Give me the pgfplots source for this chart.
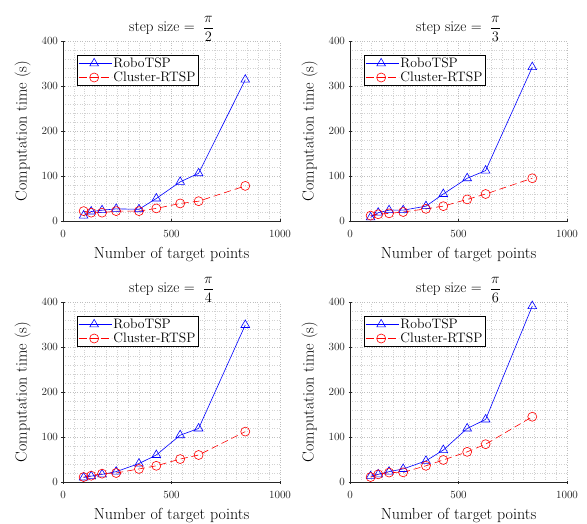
\documentclass[border=0pt]{standalone}
\usepackage{pgfplots}
\pgfplotsset{compat=1.18}
\usepackage{amsmath}

\pgfplotsset{
  myax/.style={
    scale only axis, width=217pt, height=180pt,
    anchor=south west,
    xmin=0, xmax=1000, ymin=0, ymax=400,
    xtick={0,500,1000}, ytick={0,100,200,300,400},
    /pgf/number format/1000 sep={},
    minor x tick num=9, minor y tick num=4,
    minor tick length=0pt, major tick length=3pt,
    tick align=inside,
    axis x line=bottom, axis y line=left,
    axis line style={black!85, -, line width=0.5pt},
    tick style={black!85, line width=0.5pt},
    grid=both,
    major grid style={dotted, black!25, line width=0.5pt},
    minor grid style={dotted, black!18, line width=0.5pt},
    ticklabel style={font=\fontsize{10.5}{12}\selectfont, text=black!85},
    xticklabel style={yshift=-4pt},
    xlabel={Number of target points},
    ylabel={Computation time (s)},
    label style={font=\fontsize{16}{18}\selectfont},
    xlabel style={yshift=-3pt},
    ylabel style={yshift=4pt},
    title style={font=\fontsize{15}{17}\selectfont, at={(0.5,1)}, anchor=south, inner sep=0pt, yshift=-7pt},
    legend cell align=left,
    legend style={at={(0.065,0.922)}, anchor=north west, font=\fontsize{13.7}{15}\selectfont,
      draw=black, line width=0.5pt, inner sep=1pt, row sep=0pt,
      nodes={inner sep=1.5pt}},
    legend image code/.code={\path (-1pt,0pt) -- (32pt,0pt);\draw[mark repeat=2,mark phase=2] plot coordinates {(0pt,0pt)(14.5pt,0pt)(29pt,0pt)};},
  },
  robo/.style={blue, line width=0.6pt, mark=triangle, mark size=5pt, mark options={solid, line width=0.6pt}},
  clus/.style={red, line width=0.6pt, dash pattern=on 7pt off 4pt, mark=o, mark size=4.5pt, mark options={solid, line width=0.6pt}},
}

\begin{document}
\begin{tikzpicture}
\useasboundingbox (0pt,0pt) rectangle (587pt,523pt);

\begin{axis}[myax, at={(63pt,302pt)}, title={step size $=\;\dfrac{\pi}{2}$}]
\addplot[robo] coordinates {(95,12)(130,21)(180,24)(245,27)(350,26)(430,50)(540,87)(625,106)(840,314)};
\addplot[clus] coordinates {(95,22)(130,18.5)(180,18.5)(245,22)(350,22)(430,28)(540,39)(625,44)(840,78)};
\legend{RoboTSP, Cluster-RTSP}
\end{axis}

\begin{axis}[myax, at={(350pt,302pt)}, title={step size $=\;\dfrac{\pi}{3}$}]
\addplot[robo] coordinates {(95,8)(130,18.5)(180,24)(245,24)(350,33)(430,60)(540,95)(625,112)(840,342)};
\addplot[clus] coordinates {(95,12)(130,15)(180,17)(245,20)(350,27)(430,33)(540,48)(625,60)(840,95)};
\legend{RoboTSP, Cluster-RTSP}
\end{axis}

\begin{axis}[myax, at={(63pt,41pt)}, title={step size $=\;\dfrac{\pi}{4}$}]
\addplot[robo] coordinates {(95,10)(130,13)(180,17)(245,23)(350,41)(430,60)(540,104)(625,119)(840,349)};
\addplot[clus] coordinates {(95,11)(130,14)(180,18.5)(245,20)(350,29)(430,36)(540,51)(625,60)(840,112)};
\legend{RoboTSP, Cluster-RTSP}
\end{axis}

\begin{axis}[myax, at={(350pt,41pt)}, title={step size $=\;\dfrac{\pi}{6}$}]
\addplot[robo] coordinates {(95,13)(130,17)(180,23)(245,29)(350,47)(430,71)(540,119)(625,139)(840,391)};
\addplot[clus] coordinates {(95,11)(130,17)(180,21)(245,21.5)(350,36)(430,49)(540,67)(625,84)(840,145)};
\legend{RoboTSP, Cluster-RTSP}
\end{axis}
\end{tikzpicture}
\end{document}
